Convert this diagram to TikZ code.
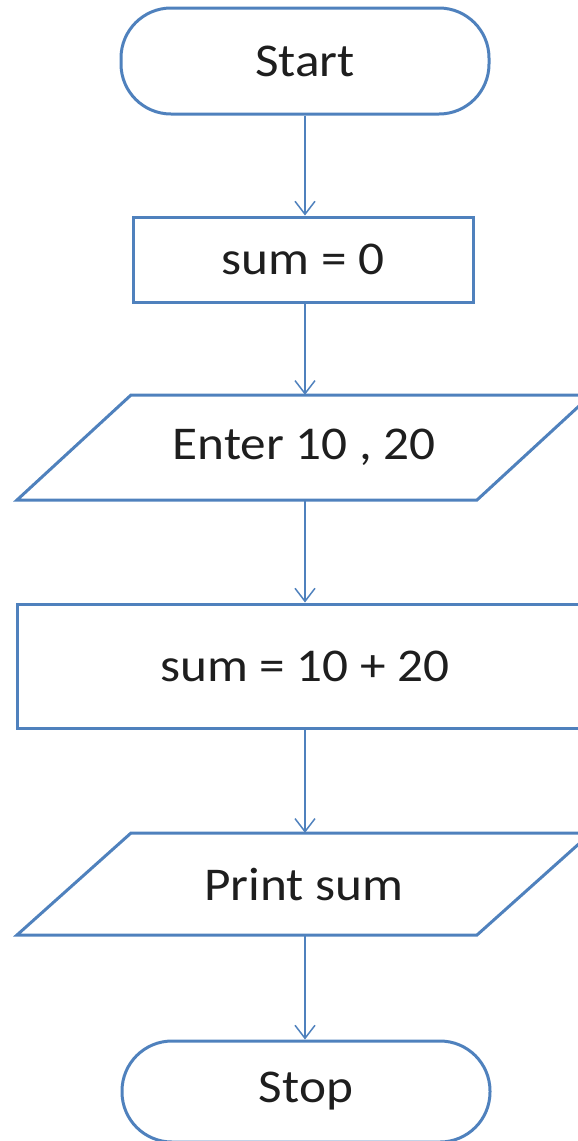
\documentclass[tikz,border=0pt]{standalone}
\usepackage{fontspec}
\setmainfont{Carlito}[FakeStretch=1.09]
\usetikzlibrary{arrows.meta}
\definecolor{fcblue}{RGB}{79,129,189}
\definecolor{fctext}{RGB}{30,30,30}
\tikzset{
  shapeline/.style={draw=fcblue, line width=3pt, line join=miter},
  lbl/.style={inner sep=0pt, text=fctext, font=\fontsize{47}{56}\selectfont},
  terminal/.style={lbl, shapeline, rectangle, rounded corners=50pt},
  procbox/.style={lbl, shapeline, rectangle},
  iobox/.style={lbl, rectangle},
  flow/.style={draw=fcblue, line width=1.5pt, -{Straight Barb[length=13pt,width=20pt,line width=1.5pt]}}
}
\begin{document}
\begin{tikzpicture}[x=1pt,y=-1pt]
\useasboundingbox (0,0) rectangle (578,1141);
% Start
\node[terminal, minimum width=368pt, minimum height=106pt] (start) at (305,61) {Start};
% sum = 0
\node[procbox, minimum width=340pt, minimum height=85pt] (init) at (303,259.5) {sum = 0};
% Enter 10 , 20
\draw[shapeline] (17,500) -- (131,395) -- (591,395) -- (477,500) -- cycle;
\node[iobox, minimum width=300pt, minimum height=105pt] (input) at (304,447.5) {Enter 10 , 20};
% sum = 10 + 20
\node[procbox, minimum width=576pt, minimum height=124pt] (calc) at (305,666) {sum = 10 + 20};
% Print sum
\draw[shapeline] (17,935) -- (131,833) -- (591,833) -- (477,935) -- cycle;
\node[iobox, minimum width=300pt, minimum height=102pt] (output) at (304,884) {Print sum};
% Stop
\node[terminal, minimum width=368pt, minimum height=101pt] (stop) at (306,1091.5) {Stop};
% connectors
\draw[flow] (start.south -| 305,0) -- (init.north -| 305,0);
\draw[flow] (init.south -| 305,0) -- (input.north -| 305,0);
\draw[flow] (input.south -| 305,0) -- (calc.north -| 305,0);
\draw[flow] (calc.south -| 305,0) -- (output.north -| 305,0);
\draw[flow] (output.south -| 305,0) -- (stop.north -| 305,0);
\end{tikzpicture}
\end{document}
